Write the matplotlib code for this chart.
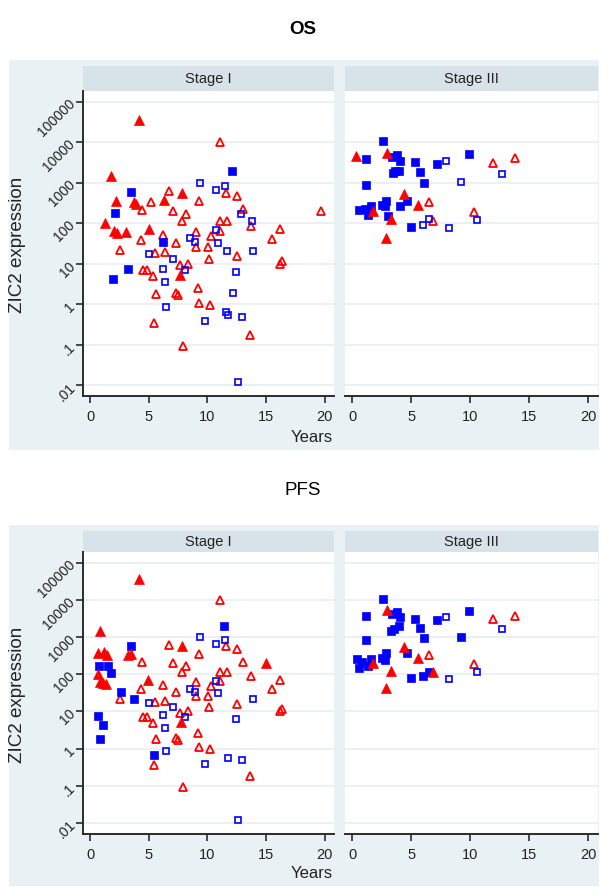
import matplotlib
matplotlib.use("Agg")
import matplotlib.pyplot as plt
from matplotlib.patches import Rectangle
from matplotlib.ticker import NullLocator

# ---- data: (years, ZIC2 expression) per panel and marker group ----------------
# OS, Stage I
os1_tri_fill_x = [4.17, 1.79, 7.8, 2.18, 3.77, 3.9, 6.3, 1.25, 5.0, 2.0, 2.3, 3.04, 7.69]
os1_tri_fill_y = [35000, 1500, 550, 360, 340, 300, 380, 100, 73, 64, 58, 60, 5.3]
os1_tri_open_x = [11.06, 6.75, 11.57, 12.57, 5.16, 9.3, 4.45, 7.1, 8.14, 13.08,
                  19.66, 7.8, 11.1, 11.7, 13.7, 16.2, 11.06, 9.0, 6.18, 10.3,
                  15.5, 4.31, 7.3, 2.55, 5.56, 6.35, 9.0, 10.07, 12.57, 10.1,
                  16.17, 16.4, 4.48, 4.82, 7.69, 8.37, 5.39, 7.32, 7.5, 5.59,
                  9.19, 9.28, 10.24, 5.45, 13.67, 7.94]
os1_tri_open_y = [10000, 630, 570, 480, 330, 355, 213, 200, 170, 220,
                  205, 116, 112, 112, 88, 72, 66, 62, 51, 49,
                  41, 39, 33, 22, 18, 19.4, 26, 26, 16, 13,
                  10, 11.5, 7.2, 6.9, 9.1, 10, 5.0, 1.9, 1.7, 1.8,
                  2.6, 1.1, 0.95, 0.35, 0.18, 0.095]
os1_sq_fill_x = [12.1, 3.46, 2.13, 6.24, 3.2, 1.99]
os1_sq_fill_y = [2000, 600, 176, 35, 7.5, 4.3]
os1_sq_open_x = [9.39, 11.5, 10.7, 12.85, 13.8, 10.72, 8.51, 8.94, 10.87, 5.02,
                 11.66, 13.9, 7.04, 6.24, 8.06, 12.43, 6.35, 12.2, 6.47, 11.63,
                 11.74, 12.99, 9.84, 12.62]
os1_sq_open_y = [1000, 850, 650, 173, 112, 69, 43, 34, 32, 17,
                 21, 21, 13, 7.5, 6.9, 6.2, 3.5, 1.9, 0.87, 0.66,
                 0.55, 0.5, 0.39, 0.012]

# OS, Stage III
os3_tri_fill_x = [0.28, 2.92, 4.34, 5.59, 1.73, 3.26, 2.87]
os3_tri_fill_y = [4500, 5500, 530, 280, 200, 128, 43]
os3_tri_open_x = [11.89, 13.82, 6.47, 10.33, 6.84]
os3_tri_open_y = [3150, 4000, 340, 190, 114]
os3_sq_fill_x = [2.58, 1.13, 3.35, 3.8, 4.03, 5.28, 7.18, 9.9, 3.4, 3.57,
                 3.91, 5.73, 6.07, 1.13, 4.6, 4.06, 2.47, 2.81, 2.78, 0.57,
                 1.08, 1.56, 1.36, 3.0, 4.94]
os3_sq_fill_y = [11000, 3900, 4300, 4800, 3500, 3200, 2900, 5000, 1700, 1900,
                 2000, 1800, 960, 870, 360, 263, 280, 360, 260, 215,
                 220, 260, 160, 150, 83]
os3_sq_open_x = [7.97, 12.68, 9.22, 10.55, 6.52, 5.96, 8.2]
os3_sq_open_y = [3500, 1650, 1020, 120, 128, 91, 75]

# PFS, Stage I
pfs1_tri_fill_x = [4.2, 0.85, 7.8, 0.71, 1.19, 1.48, 3.26, 3.46, 15.04, 0.71,
                   0.85, 1.13, 1.36, 4.9, 7.72]
pfs1_tri_fill_y = [36000, 1500, 560, 370, 390, 330, 330, 350, 206, 102,
                   63, 57, 54, 70, 5.2]
pfs1_tri_open_x = [11.06, 6.75, 11.57, 12.57, 9.3, 4.45, 7.1, 8.14, 13.08, 7.8,
                   11.1, 11.7, 13.7, 16.2, 11.06, 9.0, 6.18, 10.3, 15.5, 4.31,
                   7.3, 2.55, 5.56, 6.35, 9.0, 10.07, 12.57, 10.1, 16.17, 16.4,
                   4.48, 4.82, 7.69, 8.37, 5.39, 7.32, 7.5, 5.59, 9.19, 9.28,
                   10.24, 5.45, 13.67, 7.94]
pfs1_tri_open_y = [10000, 630, 570, 480, 355, 213, 200, 170, 220, 116,
                   112, 112, 88, 72, 66, 62, 51, 49, 41, 39,
                   33, 22, 18, 19.4, 26, 26, 16, 13, 10, 11.5,
                   7.2, 6.9, 9.1, 10, 5.0, 1.9, 1.7, 1.8, 2.6, 1.1,
                   0.95, 0.35, 0.18, 0.095]
pfs1_sq_fill_x = [11.4, 3.46, 0.74, 1.5, 1.76, 2.64, 3.77, 0.65, 1.08, 0.85, 5.45]
pfs1_sq_fill_y = [2000, 580, 170, 170, 110, 34, 22, 7.7, 4.4, 1.85, 0.68]
pfs1_sq_open_x = [9.39, 11.5, 10.7, 10.72, 8.51, 8.94, 10.87, 13.9, 5.02, 7.04,
                  6.24, 8.06, 12.43, 6.35, 6.47, 11.74, 12.99, 9.84, 12.65]
pfs1_sq_open_y = [1000, 840, 640, 66, 41, 34, 31, 22, 17, 13.5,
                  7.8, 6.9, 6.3, 3.6, 0.87, 0.55, 0.49, 0.38, 0.012]

# PFS, Stage III
pfs3_tri_fill_x = [2.92, 4.34, 5.59, 1.73, 3.26, 6.84, 2.87]
pfs3_tri_fill_y = [5400, 530, 270, 205, 126, 112, 42]
pfs3_tri_open_x = [11.89, 13.82, 6.47, 10.33]
pfs3_tri_open_y = [3100, 3800, 330, 190]
pfs3_sq_fill_x = [2.58, 1.13, 3.35, 3.8, 4.03, 5.28, 7.18, 9.9, 3.26, 3.55,
                  3.91, 5.73, 6.07, 9.22, 1.13, 4.6, 2.47, 2.81, 2.78, 0.37,
                  0.85, 1.56, 0.57, 1.36, 6.52, 5.96, 4.94]
pfs3_sq_fill_y = [10700, 3800, 4200, 4700, 3500, 3100, 2800, 5100, 1500, 1700,
                  2000, 1800, 930, 1020, 830, 370, 280, 370, 245, 250,
                  220, 250, 145, 162, 117, 89, 81]
pfs3_sq_open_x = [7.97, 12.68, 10.55, 8.2]
pfs3_sq_open_y = [3500, 1600, 118, 73]

y_ticks = [0.01, 0.1, 1, 10, 100, 1000, 10000, 100000]
y_tick_labels = [".01", ".1", "1", "10", "100", "1000", "10000", "100000"]
x_ticks = [0, 5, 10, 15, 20]
stages = ["Stage I", "Stage III"]

# ---- styling ---------------------------------------------------------------
W, H = 609, 896
BG = "#eaf1f4"
STRIP = "#d7e2e9"
GRID = "#e7eef1"
AXC = "#2b2b2b"
SANS = ["Liberation Sans", "DejaVu Sans"]

fig = plt.figure(figsize=(W / 100, H / 100), dpi=100)
fig.patch.set_facecolor("white")


def box(x0, y0, x1, y1):
    return [x0 / W, 1 - y1 / H, (x1 - x0) / W, (y1 - y0) / H]


def draw_points(ax, tf, to, sf, so):
    ax.plot(*to, ls="none", marker="^", ms=6.2, mfc="none", mec="red", mew=1.3)
    ax.plot(*so, ls="none", marker="s", ms=4.6, mfc="none", mec="blue", mew=1.2)
    ax.plot(*sf, ls="none", marker="s", ms=5.2, mfc="blue", mec="blue", mew=0.5)
    ax.plot(*tf, ls="none", marker="^", ms=6.8, mfc="red", mec="red", mew=0.5)


panels = [
    dict(title="OS", bold=True, ty=30, bg=(9, 60, 599, 450), strip=(66, 91),
         ax=(91.5, 396), ylog=(-2.26, 5.25), ylab_y=245, years_y=437,
         data=[(os1_tri_fill_x, os1_tri_fill_y, os1_tri_open_x, os1_tri_open_y,
                os1_sq_fill_x, os1_sq_fill_y, os1_sq_open_x, os1_sq_open_y),
               (os3_tri_fill_x, os3_tri_fill_y, os3_tri_open_x, os3_tri_open_y,
                os3_sq_fill_x, os3_sq_fill_y, os3_sq_open_x, os3_sq_open_y)]),
    dict(title="PFS", bold=False, ty=490, bg=(9, 525, 599, 886), strip=(531, 552),
         ax=(552, 834), ylog=(-2.30, 5.29), ylab_y=695, years_y=873,
         data=[(pfs1_tri_fill_x, pfs1_tri_fill_y, pfs1_tri_open_x, pfs1_tri_open_y,
                pfs1_sq_fill_x, pfs1_sq_fill_y, pfs1_sq_open_x, pfs1_sq_open_y),
               (pfs3_tri_fill_x, pfs3_tri_fill_y, pfs3_tri_open_x, pfs3_tri_open_y,
                pfs3_sq_fill_x, pfs3_sq_fill_y, pfs3_sq_open_x, pfs3_sq_open_y)]),
]
cols = [(82.7, 334), (345, 597.7)]

for p in panels:
    gx0, gy0, gx1, gy1 = p["bg"]
    fig.patches.append(Rectangle((gx0 / W, 1 - gy1 / H), (gx1 - gx0) / W,
                                 (gy1 - gy0) / H, transform=fig.transFigure,
                                 facecolor=BG, edgecolor="none", zorder=-10))
    fig.text(303 / W, 1 - p["ty"] / H, p["title"], ha="center", va="center",
             fontsize=13.5, fontweight="bold" if p["bold"] else "normal",
             family=SANS)
    fig.text(18 / W, 1 - p["ylab_y"] / H, "ZIC2 expression", rotation=90,
             ha="center", va="center", fontsize=13.5, color="#222222",
             family=SANS)
    fig.text(333 / W, 1 - p["years_y"] / H, "Years", ha="right", va="center",
             fontsize=12, color="#222222", family=SANS)

    for ci, ((cx0, cx1), stage, d) in enumerate(zip(cols, stages, p["data"])):
        # strip
        sax = fig.add_axes(box(cx0, p["strip"][0], cx1, p["strip"][1]))
        sax.set_facecolor(STRIP)
        sax.set_xticks([])
        sax.set_yticks([])
        for s in sax.spines.values():
            s.set_visible(False)
        sax.text(0.5, 0.5, stage, ha="center", va="center", fontsize=10.5,
                 color="#222222", family=SANS, transform=sax.transAxes)

        ax = fig.add_axes(box(cx0, p["ax"][0], cx1, p["ax"][1]))
        ax.set_facecolor("white")
        ax.set_yscale("log")
        ax.set_xlim(-0.63, 20.8)
        ax.set_ylim(10 ** p["ylog"][0], 10 ** p["ylog"][1])
        ax.set_yticks(y_ticks)
        ax.yaxis.set_minor_locator(NullLocator())
        ax.set_xticks(x_ticks)
        ax.set_xticklabels([str(t) for t in x_ticks], fontsize=10.5,
                           family=SANS, color="#222222")
        ax.grid(axis="y", color=GRID, lw=1.2)
        ax.set_axisbelow(True)
        for side in ("top", "right"):
            ax.spines[side].set_visible(False)
        ax.spines["bottom"].set_color(AXC)
        ax.spines["bottom"].set_linewidth(1.4)
        ax.tick_params(axis="x", length=5, width=1.2, color=AXC, pad=5)
        if ci == 0:
            ax.spines["left"].set_color(AXC)
            ax.spines["left"].set_linewidth(1.4)
            ax.set_yticklabels(y_tick_labels, fontsize=10, family=SANS,
                               color="#222222", rotation=45,
                               rotation_mode="anchor", ha="right", va="center")
            ax.tick_params(axis="y", length=5, width=1.2, color=AXC, pad=2)
        else:
            ax.spines["left"].set_visible(False)
            ax.tick_params(axis="y", left=False, labelleft=False)

        tfx, tfy, tox, toy, sfx, sfy, sox, soy = d
        draw_points(ax, (tfx, tfy), (tox, toy), (sfx, sfy), (sox, soy))

fig.savefig("out.png", dpi=100, facecolor="white")
